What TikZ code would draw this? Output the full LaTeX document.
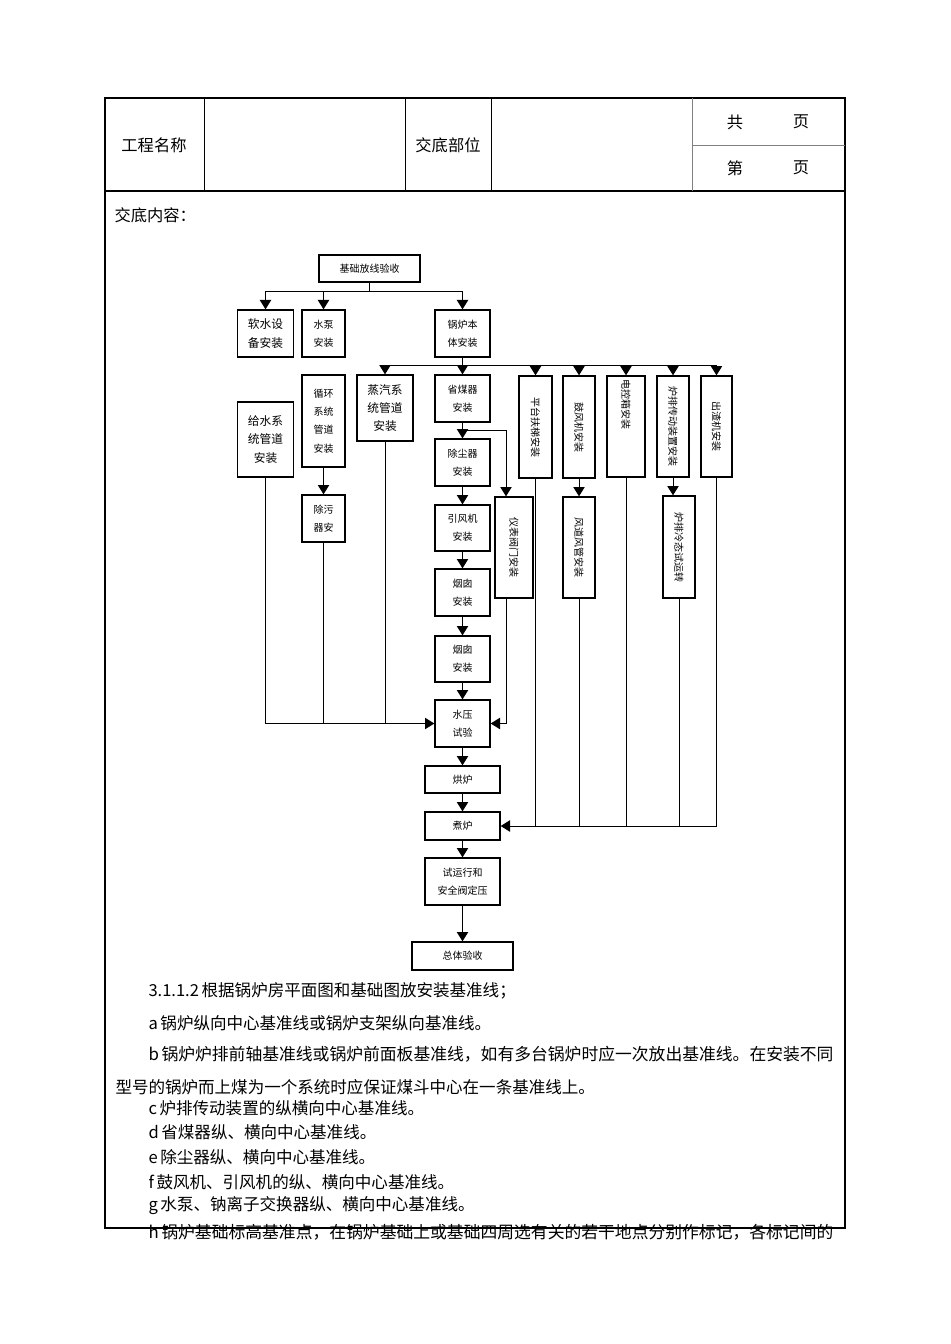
\documentclass[tikz,border=0pt]{standalone}
\usepackage{fontspec}
\setmainfont{Noto Sans CJK SC}
\usetikzlibrary{arrows.meta}

\tikzset{every picture/.style={line width=0.75pt},
  sz/.style 2 args={minimum width=#1*0.75pt,minimum height=#2*0.75pt},
  cnbox/.style={draw,line width=1pt,inner sep=0pt,align=center,font=\fontsize{7.5}{13.7}\selectfont},
  bigbox/.style={cnbox,font=\fontsize{8.8}{13.7}\selectfont},
  arr/.style={-{Triangle[width=8.5pt,length=7pt]}},
  cell/.style={inner sep=0pt,font=\fontsize{12.2}{14}\selectfont},
  body/.style={anchor=west,inner sep=0pt,font=\fontsize{12.4}{14}\selectfont},
  wide/.style={body,font=\fontsize{12.6}{14}\selectfont}
}

\begin{document}
\begin{tikzpicture}[x=0.75pt,y=0.75pt,yscale=-1,xscale=1]
%page
\fill[white] (0,0) rectangle (950,1344);

%Table frame
\draw[line width=1.5pt] (105,98) rectangle (845,1228);
\draw[line width=1.1pt] (105,191) -- (845,191);
\draw (204,98) -- (204,191);
\draw (405,98) -- (405,191);
\draw (491,98) -- (491,191);
\draw[gray,line width=0.6pt] (692,98) -- (692,191);
\draw[gray,line width=0.6pt] (692,145) -- (845,145);

% Text Node
\node[cell] (gcmc) at (154,145) {工程名称};
\node[cell] (jdbw) at (448,145) {交底部位};
\node[cell] (gong) at (735,122) {共};
\node[cell] (ye1) at (801,122) {页};
\node[cell] (di) at (735,168) {第};
\node[cell] (ye2) at (801,168) {页};
\node[cell,anchor=west] (jdnr) at (114,215) {交底内容：};

%Boxes
\node[cnbox,sz={101}{27}] (jc) at (369.5,268.5) {基础放线验收};
\node[bigbox,sz={56}{47}] (rs) at (265.5,333.5) {软水设\\备安装};
\node[cnbox,sz={43}{47}] (sb) at (323.5,333.5) {水泵\\安装};
\node[cnbox,sz={55}{47}] (gl) at (462.5,333.5) {锅炉本\\体安装};
\node[bigbox,sz={56}{75}] (gs) at (265.5,439.5) {给水系\\统管道\\安装};
\node[cnbox,sz={43}{92}] (xh) at (323.5,421) {循环\\系统\\管道\\安装};
\node[bigbox,sz={56}{66}] (zq) at (385,408) {蒸汽系\\统管道\\安装};
\node[cnbox,sz={55}{47}] (smq) at (462.5,398.5) {省煤器\\安装};
\node[cnbox,sz={33}{102}] (pt) at (535.5,427) {\rotatebox{-90}{平台扶梯安装}};
\node[cnbox,sz={32}{102}] (gf) at (579,427) {\rotatebox{-90}{鼓风机安装}};
\node[cnbox,sz={38}{101}] (dk) at (626,426.5) {};
\node[cnbox,draw=none,anchor=north] (dkt) at (626,379) {\rotatebox{-90}{电控箱安装}};
\node[cnbox,sz={32}{101}] (cd) at (673,426.5) {\rotatebox{-90}{炉排传动装置安装}};
\node[cnbox,sz={31}{101}] (cz) at (716.5,426.5) {\rotatebox{-90}{出渣机安装}};
\node[cnbox,sz={55}{47}] (ccq) at (462.5,462.5) {除尘器\\安装};
\node[cnbox,sz={43}{47}] (cw) at (323.5,518.5) {除污\\器安};
\node[cnbox,sz={38}{101}] (yb) at (514,547.5) {\rotatebox{-90}{仪表阀门安装}};
\node[cnbox,sz={32}{101}] (fd) at (579,547.5) {\rotatebox{-90}{风道风管安装}};
\node[cnbox,sz={32}{102}] (lt) at (679,547) {\rotatebox{-90}{炉排冷态试运转}};
\node[cnbox,sz={55}{46}] (yf) at (462.5,528) {引风机\\安装};
\node[cnbox,sz={55}{47}] (yc1) at (462.5,592.5) {烟囱\\安装};
\node[cnbox,sz={55}{46}] (yc2) at (462.5,659) {烟囱\\安装};
\node[cnbox,sz={55}{47}] (sy) at (462.5,723.5) {水压\\试验};
\node[cnbox,sz={75}{27}] (hl) at (462.5,779.5) {烘炉};
\node[cnbox,sz={75}{28}] (zl) at (462.5,826) {煮炉};
\node[cnbox,sz={75}{47}] (syx) at (462.5,881.5) {试运行和\\安全阀定压};
\node[cnbox,sz={101}{28}] (zt) at (462.5,956) {总体验收};

%Branch points
\coordinate (b1) at (369.5,292);
\coordinate (b2) at (462.5,365);
\coordinate (b3) at (462.5,430);

%Straight Lines
\draw (jc.south) -- (b1);
\draw[arr] (b1) -| (rs.north);
\draw[arr] (b1) -| (sb.north);
\draw[arr] (b1) -| (gl.north);
\draw[arr] (gl.south) -- (smq.north);
\draw[arr] (b2) -| (zq.north);
\draw[arr] (b2) -| (pt.north);
\draw[arr] (b2) -| (gf.north);
\draw[arr] (b2) -| (dk.north);
\draw[arr] (b2) -| (cd.north);
\draw[arr] (b2) -| (cz.north);
\draw[arr] (smq.south) -- (ccq.north);
\draw[arr] (b3) -| ([xshift=-6pt]yb.north);
\draw[arr] (ccq.south) -- (yf.north);
\draw[arr] (yf.south) -- (yc1.north);
\draw[arr] (yc1.south) -- (yc2.north);
\draw[arr] (yc2.south) -- (sy.north);
\draw[arr] (sy.south) -- (hl.north);
\draw[arr] (hl.south) -- (zl.north);
\draw[arr] (zl.south) -- (syx.north);
\draw[arr] (syx.south) -- (zt.north);
\draw[arr] (xh.south) -- (cw.north);
\draw[arr] (gf.south) -- (fd.north);
\draw[arr] (cd.south) -- (cd.south |- lt.north);
%into 水压试验
\draw[arr] (gs.south) |- (sy.west);
\draw (cw.south) -- (cw.south |- sy.west);
\draw (zq.south) -- (zq.south |- sy.west);
\draw[arr] ([xshift=-6pt]yb.south) |- (sy.east);
%into 煮炉
\draw[arr] (cz.south) |- (zl.east);
\draw (pt.south) -- (pt.south |- zl.east);
\draw (fd.south) -- (fd.south |- zl.east);
\draw (dk.south) -- (dk.south |- zl.east);
\draw (lt.south) -- (lt.south |- zl.east);

% Text Node
\node[body] (p1) at (148,991) {3.1.1.2\hspace{2pt}根据锅炉房平面图和基础图放安装基准线；};
\node[body] (pa) at (148,1023) {a\hspace{2pt}锅炉纵向中心基准线或锅炉支架纵向基准线。};
\node[wide] (pb) at (148,1054) {b\hspace{2pt}锅炉炉排前轴基准线或锅炉前面板基准线，如有多台锅炉时应一次放出基准线。在安装不同};
\node[body] (pb2) at (115,1087) {型号的锅炉而上煤为一个系统时应保证煤斗中心在一条基准线上。};
\node[body] (pc) at (148,1108) {c\hspace{2pt}炉排传动装置的纵横向中心基准线。};
\node[body] (pd) at (148,1132) {d\hspace{2pt}省煤器纵、横向中心基准线。};
\node[body] (pe) at (148,1157) {e\hspace{2pt}除尘器纵、横向中心基准线。};
\node[body] (pf) at (148,1182) {f\hspace{2pt}鼓风机、引风机的纵、横向中心基准线。};
\node[body] (pg) at (148,1206) {g\hspace{2pt}水泵、钠离子交换器纵、横向中心基准线。};
\node[wide] (ph) at (148,1232) {h\hspace{2pt}锅炉基础标高基准点，在锅炉基础上或基础四周选有关的若干地点分别作标记，各标记间的};

\end{tikzpicture}
\end{document}
